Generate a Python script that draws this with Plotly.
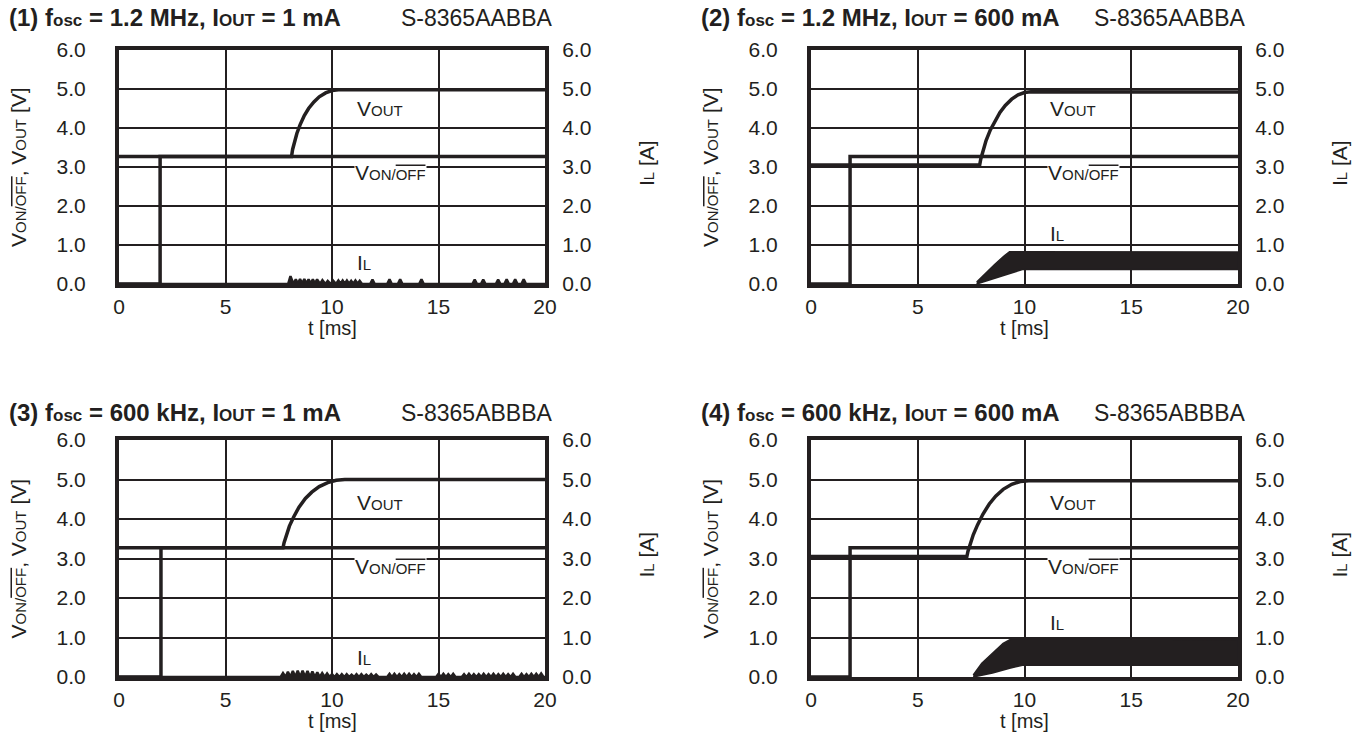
import plotly.graph_objects as go

W, H = 1365, 753
INK = '#231f20'
FONT = 'Liberation Sans, Arial, sans-serif'

# ---------------- data ----------------
x_ticks = [0, 5, 10, 15, 20]
y_ticks = [0.0, 1.0, 2.0, 3.0, 4.0, 5.0, 6.0]

titles = ['(1)', '(2)', '(3)', '(4)']
fosc = ['1.2 MHz', '1.2 MHz', '600 kHz', '600 kHz']
iout = ['1 mA', '600 mA', '1 mA', '600 mA']
parts = ['S-8365AABBA', 'S-8365AABBA', 'S-8365ABBBA', 'S-8365ABBBA']

# V_ON/OFF [V]
von1_t = [0, 1.93, 1.93, 20]
von1_v = [0, 0, 3.27, 3.27]
von2_t = [0, 1.83, 1.83, 20]
von2_v = [0, 0, 3.27, 3.27]
von3_t = [0, 1.97, 1.97, 20]
von3_v = [0, 0, 3.27, 3.27]
von4_t = [0, 1.83, 1.83, 20]
von4_v = [0, 0, 3.27, 3.27]

# V_OUT [V]
vout1_t = [0, 8.1, 8.15, 8.25, 8.35, 8.5, 8.7, 8.9, 9.15, 9.4, 9.7, 10.0, 10.3, 20]
vout1_v = [3.27, 3.27, 3.45, 3.68, 3.86, 4.08, 4.32, 4.5, 4.67, 4.8, 4.9, 4.96, 4.98, 4.98]
vout2_t = [0, 7.9, 7.95, 8.05, 8.2, 8.4, 8.6, 8.85, 9.1, 9.4, 9.7, 10.0, 10.3, 20]
vout2_v = [3.05, 3.05, 3.2, 3.42, 3.68, 3.95, 4.17, 4.4, 4.58, 4.74, 4.85, 4.91, 4.93, 4.92]
vout3_t = [0, 7.7, 7.75, 7.85, 8.0, 8.2, 8.45, 8.75, 9.05, 9.4, 9.8, 10.2, 10.6, 20]
vout3_v = [3.27, 3.27, 3.4, 3.6, 3.82, 4.05, 4.3, 4.52, 4.68, 4.82, 4.92, 4.98, 5.0, 5.0]
vout4_t = [0, 7.3, 7.35, 7.45, 7.6, 7.8, 8.05, 8.35, 8.65, 9.0, 9.4, 9.8, 10.2, 20]
vout4_v = [3.05, 3.05, 3.18, 3.38, 3.6, 3.85, 4.12, 4.38, 4.58, 4.75, 4.88, 4.95, 4.97, 4.97]

# I_L [A] light load: individual current pulses (time, peak)
il1_t = [8.05, 8.3, 8.5, 8.7, 8.9, 9.1, 9.3, 9.55, 9.8, 10.05, 10.3, 10.5, 10.7,
         10.9, 11.1, 11.3, 11.9, 12.7, 13.2, 14.2, 16.7, 17.1, 17.8, 18.2, 18.6, 19.0]
il1_a = [0.2, 0.12, 0.13, 0.13, 0.12, 0.12, 0.12, 0.1, 0.08, 0.09, 0.09, 0.09, 0.09,
         0.08, 0.09, 0.08, 0.11, 0.12, 0.12, 0.12, 0.11, 0.11, 0.11, 0.12, 0.12, 0.12]
il3_t = [7.7, 7.93, 8.16, 8.39, 8.62, 8.85, 9.08, 9.31, 9.54, 9.77,
         10.0, 10.23, 10.46, 10.69, 10.92, 11.15, 11.38, 11.61, 11.84, 12.07,
         12.7, 12.93, 13.16, 13.39, 13.62, 13.85, 14.08,
         15.0, 15.23, 15.46, 15.69,
         16.2, 16.43, 16.66, 16.89, 17.12, 17.35, 17.58, 17.81, 18.04, 18.27, 18.5,
         18.9, 19.13, 19.36, 19.59, 19.82]
il3_a = [0.1, 0.13, 0.15, 0.16, 0.16, 0.15, 0.14, 0.12, 0.1, 0.09,
         0.07, 0.07, 0.07, 0.07, 0.06, 0.07, 0.07, 0.06, 0.07, 0.06,
         0.08, 0.08, 0.07, 0.08, 0.08, 0.07, 0.08,
         0.08, 0.08, 0.07, 0.08,
         0.07, 0.08, 0.07, 0.07, 0.08, 0.07, 0.08, 0.07, 0.08, 0.07, 0.08,
         0.08, 0.07, 0.08, 0.08, 0.09]

# I_L [A] heavy load: ripple envelope (upper / lower)
il2_up_t = [7.76, 8.2, 8.6, 9.0, 9.3, 10.0, 15.0, 20]
il2_up = [0.05, 0.3, 0.5, 0.7, 0.83, 0.83, 0.82, 0.82]
il2_lo_t = [7.76, 8.5, 9.2, 9.9, 20]
il2_lo = [0.0, 0.12, 0.25, 0.37, 0.37]
il4_up_t = [7.6, 8.0, 8.5, 9.0, 9.4, 20]
il4_up = [0.05, 0.35, 0.6, 0.85, 0.97, 0.95]
il4_lo_t = [7.6, 8.5, 9.3, 9.9, 20]
il4_lo = [0.0, 0.1, 0.22, 0.3, 0.3]

# caption anchor values (t, value)
lab_vout = [(11.1, 4.5), (11.1, 4.5), (11.1, 4.43), (11.1, 4.43)]
lab_von = [(11.05, 2.88), (11.05, 2.88), (11.05, 2.82), (11.05, 2.82)]
lab_il = [(11.1, 0.56), (11.1, 1.3), (11.1, 0.5), (11.1, 1.37)]

# ---------------- layout geometry (pixels) ----------------
boxes = [(119, 545, 50, 284), (811, 1238, 50, 284),
         (119, 545, 440, 677), (811, 1238, 440, 677)]
title_y = [18, 18, 413, 413]


def px(x):
    return x / W


def py(y):
    return 1 - y / H


SM = "<span style='font-size:15px'>%s</span>"
SMO = "<span style='font-size:15px;text-decoration:overline'>%s</span>"
TS = "<span style='font-size:17px'>%s</span>"

fig = go.Figure()

von = [(von1_t, von1_v), (von2_t, von2_v), (von3_t, von3_v), (von4_t, von4_v)]
vout = [(vout1_t, vout1_v), (vout2_t, vout2_v), (vout3_t, vout3_v), (vout4_t, vout4_v)]
pulses = {1: (il1_t, il1_a), 3: (il3_t, il3_a)}
bands = {2: (il2_up_t, il2_up, il2_lo_t, il2_lo), 4: (il4_up_t, il4_up, il4_lo_t, il4_lo)}
PW = 0.11  # half width of a drawn pulse (ms)

for i in range(1, 5):
    xa = 'x' if i == 1 else f'x{i}'
    ya = 'y' if i == 1 else f'y{i}'
    ya2 = f'y{i + 4}'
    if i in pulses:
        ts, amps = pulses[i]
        xs, ys = [0], [0]
        for t, a in zip(ts, amps):
            xs += [t - PW, t, t + PW]
            ys += [0, a, 0]
        xs.append(20)
        ys.append(0)
        fig.add_trace(go.Scatter(x=xs, y=ys, mode='lines', fill='tozeroy',
                                 fillcolor=INK, line=dict(color=INK, width=2.5),
                                 xaxis=xa, yaxis=ya2, showlegend=False, hoverinfo='skip'))
    else:
        ut, uv, lt, lv = bands[i]
        xs = list(ut) + list(lt)[::-1]
        ys = list(uv) + list(lv)[::-1]
        fig.add_trace(go.Scatter(x=xs, y=ys, mode='lines', fill='toself',
                                 fillcolor=INK, line=dict(color=INK, width=1.5),
                                 xaxis=xa, yaxis=ya2, showlegend=False, hoverinfo='skip'))
    t, v = von[i - 1]
    fig.add_trace(go.Scatter(x=t, y=v, mode='lines', line=dict(color=INK, width=3.5),
                             xaxis=xa, yaxis=ya, showlegend=False, hoverinfo='skip'))
    t, v = vout[i - 1]
    fig.add_trace(go.Scatter(x=t, y=v, mode='lines', line=dict(color=INK, width=3.5),
                             xaxis=xa, yaxis=ya, showlegend=False, hoverinfo='skip'))

layout = dict(template='none', width=W, height=H,
              margin=dict(l=0, r=0, t=0, b=0, pad=0, autoexpand=False), autosize=False,
              paper_bgcolor='white', plot_bgcolor='white',
              font=dict(family=FONT, size=21, color=INK), showlegend=False)

annotations = []
for i in range(1, 5):
    x0, x1, y0, y1 = boxes[i - 1]
    sfx = '' if i == 1 else str(i)
    xa = 'x' if i == 1 else f'x{i}'
    ya = 'y' if i == 1 else f'y{i}'
    layout['xaxis' + sfx] = dict(domain=[px(x0), px(x1)], range=[0, 20], tickvals=x_ticks,
                                 showgrid=True, gridcolor=INK, gridwidth=1.5,
                                 showline=True, linecolor=INK, linewidth=4, mirror=True,
                                 ticks='outside', ticklen=1, tickcolor='rgba(0,0,0,0)',
                                 zeroline=False, anchor=ya, fixedrange=True, automargin=False)
    layout['yaxis' + sfx] = dict(domain=[py(y1), py(y0)], range=[0, 6], tickvals=y_ticks,
                                 tickformat='.1f', showgrid=True, gridcolor=INK, gridwidth=1.5,
                                 showline=True, linecolor=INK, linewidth=4, mirror=True,
                                 ticks='outside', ticklen=25, tickcolor='rgba(0,0,0,0)',
                                 zeroline=False, anchor=xa, fixedrange=True, automargin=False)
    layout[f'yaxis{i + 4}'] = dict(overlaying=ya, side='right', anchor=xa, range=[0, 6],
                                   tickvals=y_ticks, tickformat='.1f', showgrid=False,
                                   showline=False, zeroline=False, ticks='outside', ticklen=12,
                                   tickcolor='rgba(0,0,0,0)', fixedrange=True, automargin=False)
    # panel title
    annotations.append(dict(xref='paper', yref='paper', x=px(x0 - 112), y=py(title_y[i - 1]),
                            xanchor='left', yanchor='middle', showarrow=False,
                            text=f"<b>{titles[i-1]} f{TS % 'osc'} = {fosc[i-1]}, I{TS % 'OUT'} = {iout[i-1]}</b>",
                            font=dict(size=24)))
    annotations.append(dict(xref='paper', yref='paper', x=px(x1 + 10), y=py(title_y[i - 1]),
                            xanchor='right', yanchor='middle', showarrow=False,
                            text=parts[i-1], font=dict(size=23)))
    # axis titles
    annotations.append(dict(xref='paper', yref='paper', x=px(x0 - 101), y=py((y0 + y1) / 2),
                            xanchor='center', yanchor='middle', showarrow=False, textangle=-90,
                            text=f"V{SM % 'ON/'}{SMO % 'OFF'}, V{SM % 'OUT'} [V]"))
    annotations.append(dict(xref='paper', yref='paper', x=px(x1 + 101), y=py((y0 + y1) / 2 - 4),
                            xanchor='center', yanchor='middle', showarrow=False, textangle=-90,
                            text=f"I{SM % 'L'} [A]"))
    annotations.append(dict(xref='paper', yref='paper', x=px((x0 + x1) / 2), y=py(y1 + 44),
                            xanchor='center', yanchor='middle', showarrow=False,
                            text='t [ms]', font=dict(size=20)))
    # curve captions
    tx, ty = lab_vout[i - 1]
    annotations.append(dict(xref=xa, yref=ya, x=tx, y=ty, xanchor='left', yanchor='middle',
                            showarrow=False, text=f"V{SM % 'OUT'}"))
    tx, ty = lab_von[i - 1]
    annotations.append(dict(xref=xa, yref=ya, x=tx, y=ty, xanchor='left', yanchor='middle',
                            showarrow=False, bgcolor='white', borderpad=0, height=20,
                            text=f"V{SM % 'ON/'}{SMO % 'OFF'}"))
    tx, ty = lab_il[i - 1]
    annotations.append(dict(xref=xa, yref=ya, x=tx, y=ty, xanchor='left', yanchor='middle',
                            showarrow=False, text=f"I{SM % 'L'}"))

layout['annotations'] = annotations
fig.update_layout(**layout)
fig.write_html('out.html', config={'displayModeBar': False},
               post_script="document.body.style.margin='0px';")
